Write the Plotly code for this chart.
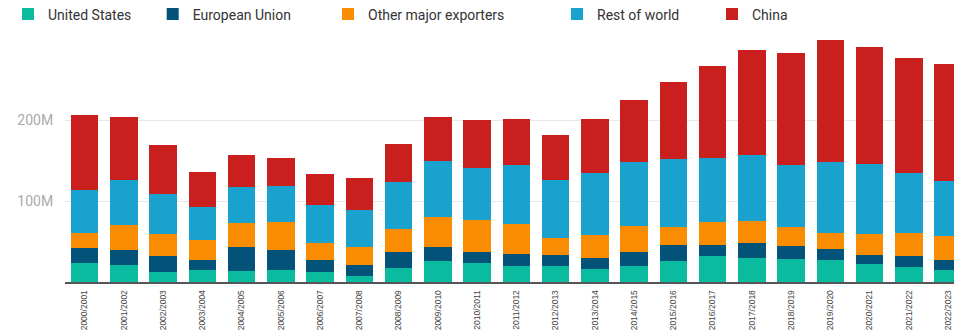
import plotly.graph_objects as go

years = ["2000/2001", "2001/2002", "2002/2003", "2003/2004", "2004/2005", "2005/2006",
         "2006/2007", "2007/2008", "2008/2009", "2009/2010", "2010/2011", "2011/2012",
         "2012/2013", "2013/2014", "2014/2015", "2015/2016", "2016/2017", "2017/2018",
         "2018/2019", "2019/2020", "2020/2021", "2021/2022", "2022/2023"]

united_states = [23.5, 21.0, 12.7, 14.4, 14.0, 14.8, 12.0, 7.8, 17.7, 25.9, 23.1, 19.8,
                 19.8, 16.0, 20.1, 26.3, 31.7, 29.6, 28.8, 27.5, 22.2, 18.5, 15.2]
european_union = [18.5, 18.5, 19.4, 12.3, 28.9, 24.7, 14.8, 13.2, 19.0, 17.3, 13.6, 15.2,
                  13.2, 14.0, 16.9, 19.4, 13.6, 18.1, 15.7, 13.2, 11.1, 13.6, 11.6]
other_major = [18.1, 30.5, 27.2, 25.1, 30.4, 34.6, 21.4, 21.9, 29.1, 36.7, 39.9, 36.7,
               21.0, 28.0, 31.7, 22.2, 28.8, 27.2, 23.5, 19.8, 25.9, 28.4, 29.6]
rest_of_world = [53.5, 56.3, 49.4, 40.4, 44.1, 44.4, 46.5, 46.4, 57.6, 69.1, 64.6, 72.8,
                 72.3, 76.2, 79.0, 83.6, 79.0, 81.5, 76.9, 87.7, 86.4, 74.1, 68.3]
china = [92.6, 77.0, 60.5, 43.6, 39.1, 34.6, 39.0, 38.8, 46.5, 55.1, 58.9, 56.4,
         54.8, 66.7, 77.3, 95.8, 113.2, 129.6, 137.9, 150.2, 144.8, 142.3, 144.8]

series_names = ["United States", "European Union", "Other major exporters", "Rest of world", "China"]
series_values = [united_states, european_union, other_major, rest_of_world, china]
colors = ["#0BBB9F", "#02527A", "#F98C00", "#1AA2CF", "#C91F1F"]

y_tick_values = [100, 200]
y_tick_labels = ["100M", "200M"]

# the page body adds an 8px offset; the figure is sized to fill the remaining window
W, H = 954, 325
ML, MR, MT, MB = 57, 0, 28, 51
plot_w = W - ML - MR
plot_h = H - MT - MB
pitch = 39.25

fig = go.Figure()
legend_ids = ["legend", "legend2", "legend3", "legend4", "legend5"]
for name, vals, col, lid in zip(series_names, series_values, colors, legend_ids):
    fig.add_trace(go.Bar(x=years, y=vals, name=name, marker=dict(color=col, line=dict(width=0)),
                         legend=lid))

legend_px = [-12, 144.7, 320, 549, 704]
legend_font = dict(family="Roboto, Arial, sans-serif", size=14, color="#333333")
leg_layout = {}
for lid, px in zip(legend_ids, legend_px):
    leg_layout[lid] = dict(x=px / W, xref="container", xanchor="left",
                           y=1 - 6.5 / H, yref="container", yanchor="middle",
                           orientation="h", font=legend_font,
                           bgcolor="rgba(0,0,0,0)", borderwidth=0)

fig.update_layout(
    width=W, height=H,
    margin=dict(l=ML, r=MR, t=MT, b=MB, pad=0, autoexpand=False),
    barmode="stack",
    bargap=0.30,
    plot_bgcolor="white",
    paper_bgcolor="white",
    showlegend=True,
    **leg_layout,
)
fig.update_xaxes(
    range=[-0.5, -0.5 + plot_w / pitch],
    tickangle=-90,
    tickfont=dict(family="Liberation Sans, Arial, sans-serif", size=8.5, color="#444444"),
    showline=True, linecolor="#555555", linewidth=1.5,
    showgrid=False, ticks="outside", ticklen=3, tickcolor="rgba(0,0,0,0)",
    automargin=False,
)
fig.update_yaxes(
    range=[0, plot_h / 0.81],
    tickvals=y_tick_values, ticktext=y_tick_labels,
    tickfont=dict(family="Roboto, Arial, sans-serif", size=14, color="#aaaaaa"),
    showgrid=True, gridcolor="#e8e8e8", gridwidth=1,
    zeroline=False, showline=False,
    ticks="outside", ticklen=8, tickcolor="rgba(0,0,0,0)",
    automargin=False,
)

fig.write_html("out.html")
